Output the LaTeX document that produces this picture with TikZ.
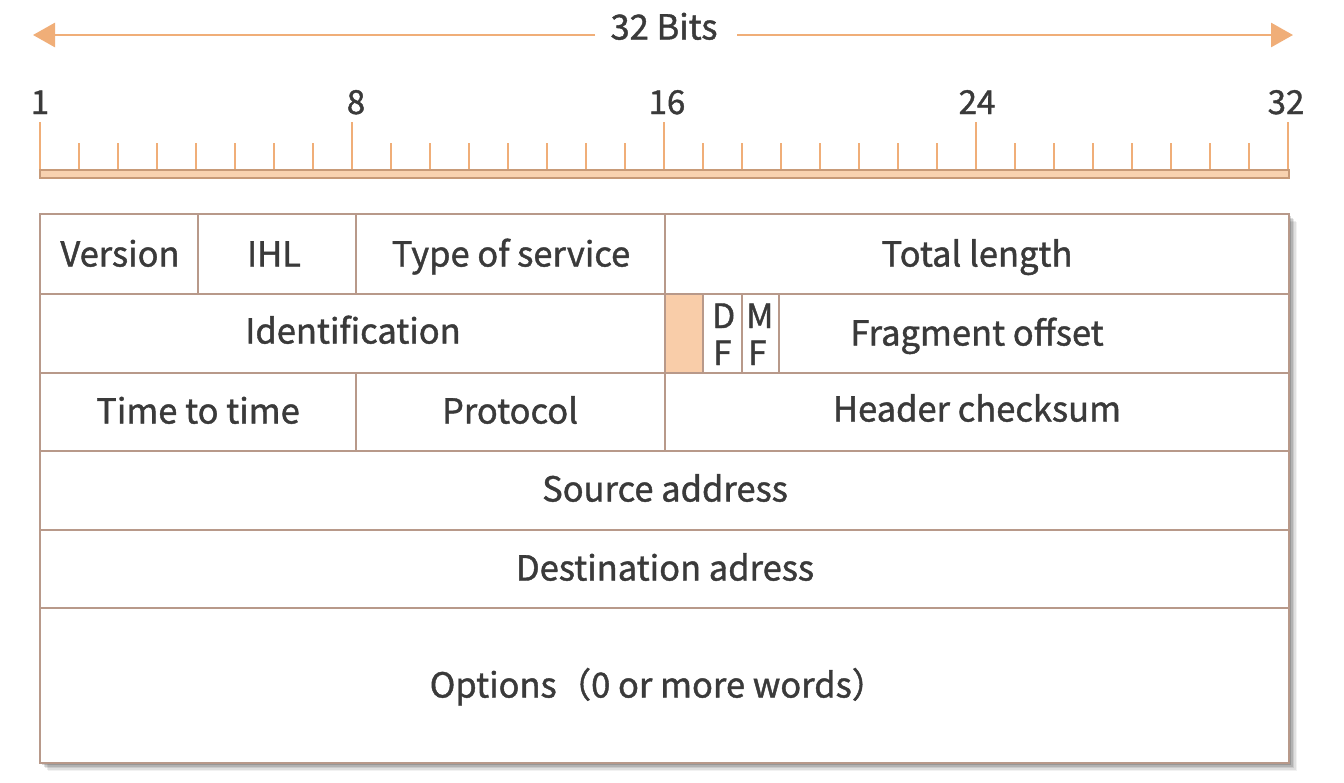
\documentclass[tikz,border=0pt]{standalone}
\usepackage{fontspec}
\setmainfont{Noto Sans CJK SC}[FakeBold=1.2]
\usetikzlibrary{arrows.meta}
\definecolor{ruler}{HTML}{F0AE78}
\definecolor{rulerdark}{HTML}{C79A78}
\definecolor{barfill}{HTML}{F8D2B0}
\definecolor{grid}{HTML}{B8998A}
\definecolor{resfill}{HTML}{F9CDA9}
\definecolor{txt}{HTML}{3A3A3A}
\tikzset{
  lbl/.style={text=txt, font=\fontsize{34.5}{40}\selectfont, inner sep=0pt, text height=25pt, text depth=0pt},
  numlbl/.style={text=txt, font=\fontsize{33}{40}\selectfont, inner sep=0pt, text height=24pt, text depth=0pt},
  flaglbl/.style={text=txt, font=\fontsize{33.5}{37}\selectfont, inner sep=0pt, text height=24pt, text depth=0pt, anchor=west},
  gridline/.style={draw=grid, line width=1.6pt},
  tickline/.style={draw=ruler, line width=2.8pt},
  arrline/.style={draw=ruler, line width=2.8pt},
}
\begin{document}
\begin{tikzpicture}[x=1pt,y=-1pt]
\useasboundingbox (0,0) rectangle (1344,782);
\fill[white] (0,0) rectangle (1344,782);
% ---- 32 bits arrow
\node[lbl] (bits) at (664,27) {32 Bits};
\coordinate (aL) at (33,35);
\coordinate (aR) at (1293,35);
\coordinate (aLm) at (595,35);
\coordinate (aRm) at (737,35);
\draw[arrline, -{Triangle[length=22pt,width=24pt]}] (aLm) -- (aL);
\draw[arrline, -{Triangle[length=22pt,width=24pt]}] (aRm) -- (aR);
% ---- ruler
\foreach \k in {1,...,31}{
  \draw[tickline] ({40+39*\k},143) -- ({40+39*\k},171);
}
\foreach \k in {0,8,16,24,32}{
  \draw[tickline] ({40+39*\k},122) -- ({40+39*\k},171);
}
\draw[fill=barfill, draw=rulerdark, line width=1.2pt] (40,170) rectangle (1289,178);
\node[numlbl] (n1) at (40,102) {1};
\node[numlbl] (n8) at (356,102) {8};
\node[numlbl] (n16) at (667,102) {16};
\node[numlbl] (n24) at (977,102) {24};
\node[numlbl] (n32) at (1286,102) {32};
% ---- shadow
\foreach \o/\a in {8/0.05,6.5/0.07,5/0.09,3.5/0.12,2/0.15}{
  \fill[black, opacity=\a] (40+\o,214+\o) rectangle (1289+\o,763+\o);
}
% ---- table
\fill[white] (40,214) rectangle (1289,763);
\fill[resfill] (665,294) rectangle (703,373);
\draw[gridline] (40,214) rectangle (1289,763);
\foreach \y in {294,373,451,530,608}{
  \draw[gridline] (40,\y) -- (1289,\y);
}
\draw[gridline] (198,214) -- (198,294);
\draw[gridline] (356,214) -- (356,294);
\draw[gridline] (665,214) -- (665,451);
\draw[gridline] (703,294) -- (703,373);
\draw[gridline] (742,294) -- (742,373);
\draw[gridline] (779,294) -- (779,373);
\draw[gridline] (356,373) -- (356,451);
% ---- cell labels
\node[lbl] (ver) at (120,254) {Version};
\node[lbl] (ihl) at (274,254) {IHL};
\node[lbl] (tos) at (511,254) {Type of service};
\node[lbl] (tl) at (977,254) {Total length};
\node[lbl] (id) at (353,331) {Identification};
\node[flaglbl] (df1) at (712,316) {D};
\node[flaglbl] (df2) at (713,353) {F};
\node[flaglbl] (mf1) at (746,316) {M};
\node[flaglbl] (mf2) at (748,353) {F};
\node[lbl] (fo) at (977,333) {Fragment offset};
\node[lbl] (ttl) at (198,411) {Time to time};
\node[lbl] (proto) at (510,411) {Protocol};
\node[lbl] (hc) at (977,409) {Header checksum};
\node[lbl] (src) at (665,489) {Source address};
\node[lbl] (dst) at (665,568) {Destination adress};
\node[lbl] (opt) at (658,685) {Options（0 or more words）};
\end{tikzpicture}
\end{document}
